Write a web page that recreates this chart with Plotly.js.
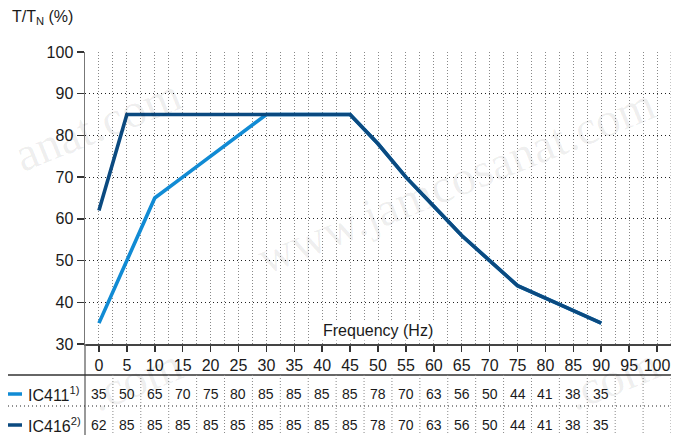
<!DOCTYPE html>
<html>
<head>
<meta charset="utf-8">
<script src="https://cdn.plot.ly/plotly-3.0.1.min.js"></script>
<style>html,body{margin:0;padding:0;background:#fff;}#chart{width:673px;height:435px;}</style>
</head>
<body>
<div id="chart"></div>
<script>
// ---- data ----
const frequency = [0, 5, 10, 15, 20, 25, 30, 35, 40, 45, 50, 55, 60, 65, 70, 75, 80, 85, 90];
const ic411 = [35, 50, 65, 70, 75, 80, 85, 85, 85, 85, 78, 70, 63, 56, 50, 44, 41, 38, 35];
const ic416 = [62, 85, 85, 85, 85, 85, 85, 85, 85, 85, 78, 70, 63, 56, 50, 44, 41, 38, 35];
const xTickValues = [0, 5, 10, 15, 20, 25, 30, 35, 40, 45, 50, 55, 60, 65, 70, 75, 80, 85, 90, 95, 100];
const yTickValues = [30, 40, 50, 60, 70, 80, 90, 100];
const seriesNames = ['IC411', 'IC416'];
const seriesNotes = ['1)', '2)'];
const seriesColors = ['#118bd4', '#0b4a80'];
const yTitle = 'T/T<sub>N</sub> (%)';
const xTitle = 'Frequency (Hz)';
const watermarkTexts = ['www.jamcosanat.com', 'anat.com', '.com', '.com'];

// ---- layout helpers (pixel -> paper) ----
const W = 673, H = 435;
const M = {l: 85, r: 2, t: 52, b: 91};
const PW = W - M.l - M.r, PH = H - M.t - M.b;
const px = p => (p - M.l) / PW;
const py = p => (H - M.b - p) / PH;

const FONT = 'Liberation Sans, Arial, Helvetica, sans-serif';
const seriesData = [ic411, ic416];

const traces = seriesData.map((vals, i) => ({
  type: 'scatter', mode: 'lines', x: frequency, y: vals, name: seriesNames[i],
  line: {color: seriesColors[i], width: 3.6}, hoverinfo: 'skip'
}));

const rowY = [py(394), py(425)];
const tableTop = py(375), tableSep = py(406), tableBottom = py(435);

const shapes = [];
// y axis extended through the table
shapes.push({type: 'line', xref: 'paper', yref: 'paper', x0: 0, x1: 0, y0: 0, y1: tableBottom,
  line: {color: '#777', width: 1.5}});
// table top rule
shapes.push({type: 'line', xref: 'paper', yref: 'paper', x0: px(8), x1: 1, y0: tableTop, y1: tableTop,
  line: {color: '#333', width: 1.5}});
// table row separator
shapes.push({type: 'line', xref: 'paper', yref: 'paper', x0: px(8), x1: 1, y0: tableSep, y1: tableSep,
  line: {color: '#222', width: 1, dash: '1px,3px'}});
// right border of plot
shapes.push({type: 'line', xref: 'x', yref: 'paper', x0: 102.5, x1: 102.5, y0: 0, y1: 1,
  line: {color: '#888', width: 1, dash: '1px,2px'}});
// table column separators
for (let k = 0; k <= 20; k++) {
  const xv = 2.5 + 5 * k;
  shapes.push({type: 'line', xref: 'x', yref: 'paper', x0: xv, x1: xv, y0: tableTop, y1: tableBottom,
    line: {color: '#888', width: 1, dash: '1px,2px'}});
}
// legend swatches
seriesColors.forEach((c, i) => {
  shapes.push({type: 'line', xref: 'paper', yref: 'paper', x0: px(8), x1: px(22), y0: rowY[i], y1: rowY[i],
    line: {color: c, width: 3.5}});
});

const annotations = [];
// watermarks (faint)
const wmPos = [[455, 180], [97, 124], [135, 379], [612, 378]];
watermarkTexts.forEach((t, i) => {
  annotations.push({xref: 'paper', yref: 'paper', x: px(wmPos[i][0]), y: py(wmPos[i][1]), text: t, showarrow: false,
    textangle: -22, xanchor: 'center', yanchor: 'middle',
    font: {family: 'Liberation Serif, Times New Roman, serif', size: 48, color: 'rgba(0,0,0,0.07)'}});
});
// y title
annotations.push({xref: 'paper', yref: 'paper', x: px(10), y: py(18), text: yTitle, showarrow: false,
  xanchor: 'left', yanchor: 'middle', font: {family: FONT, size: 16, color: '#1a1a1a'}});
// x title inside plot
annotations.push({xref: 'x', yref: 'paper', x: 50, y: py(330), text: xTitle, showarrow: false,
  xanchor: 'center', yanchor: 'middle', bgcolor: '#fff', borderpad: 1,
  font: {family: FONT, size: 16, color: '#1a1a1a'}});
// table row labels and values
seriesData.forEach((vals, i) => {
  annotations.push({xref: 'paper', yref: 'paper', x: px(26), y: rowY[i],
    text: seriesNames[i] + '<sup>' + seriesNotes[i] + '</sup>', showarrow: false,
    xanchor: 'left', yanchor: 'middle', font: {family: FONT, size: 16, color: '#1a1a1a'}});
  vals.forEach((v, j) => {
    annotations.push({xref: 'x', yref: 'paper', x: frequency[j], y: rowY[i], text: String(v), showarrow: false,
      xanchor: 'center', yanchor: 'middle', font: {family: FONT, size: 14, color: '#1a1a1a'}});
  });
});

const layout = {
  width: W, height: H, autosize: false,
  margin: M,
  paper_bgcolor: '#fff', plot_bgcolor: '#fff',
  showlegend: false,
  font: {family: FONT, size: 16, color: '#1a1a1a'},
  xaxis: {
    range: [-2.5, 102.5], tickvals: xTickValues, ticktext: xTickValues.map(String),
    ticks: 'outside', ticklen: 6, tickwidth: 1.5, tickcolor: '#333',
    showline: true, linecolor: '#444', linewidth: 1.5,
    showgrid: true, gridcolor: '#888', gridwidth: 1, griddash: '1px,2px',
    minor: {dtick: 2.5, tick0: 0, showgrid: true, gridcolor: '#888', gridwidth: 1, griddash: '1px,2px', ticks: ''},
    zeroline: false, tickfont: {size: 16, family: FONT, color: '#1a1a1a'}, fixedrange: true
  },
  yaxis: {
    range: [30, 100], tickvals: yTickValues, ticktext: yTickValues.map(String),
    ticks: 'outside', ticklen: 7, tickwidth: 1.5, tickcolor: '#333',
    showline: true, linecolor: '#777', linewidth: 1.5,
    showgrid: true, gridcolor: '#222', gridwidth: 1, griddash: '1px,3px',
    zeroline: false, tickfont: {size: 16, family: FONT, color: '#1a1a1a'}, fixedrange: true
  },
  shapes: shapes,
  annotations: annotations
};

Plotly.newPlot('chart', traces, layout, {displayModeBar: false, staticPlot: true});
</script>
</body>
</html>
